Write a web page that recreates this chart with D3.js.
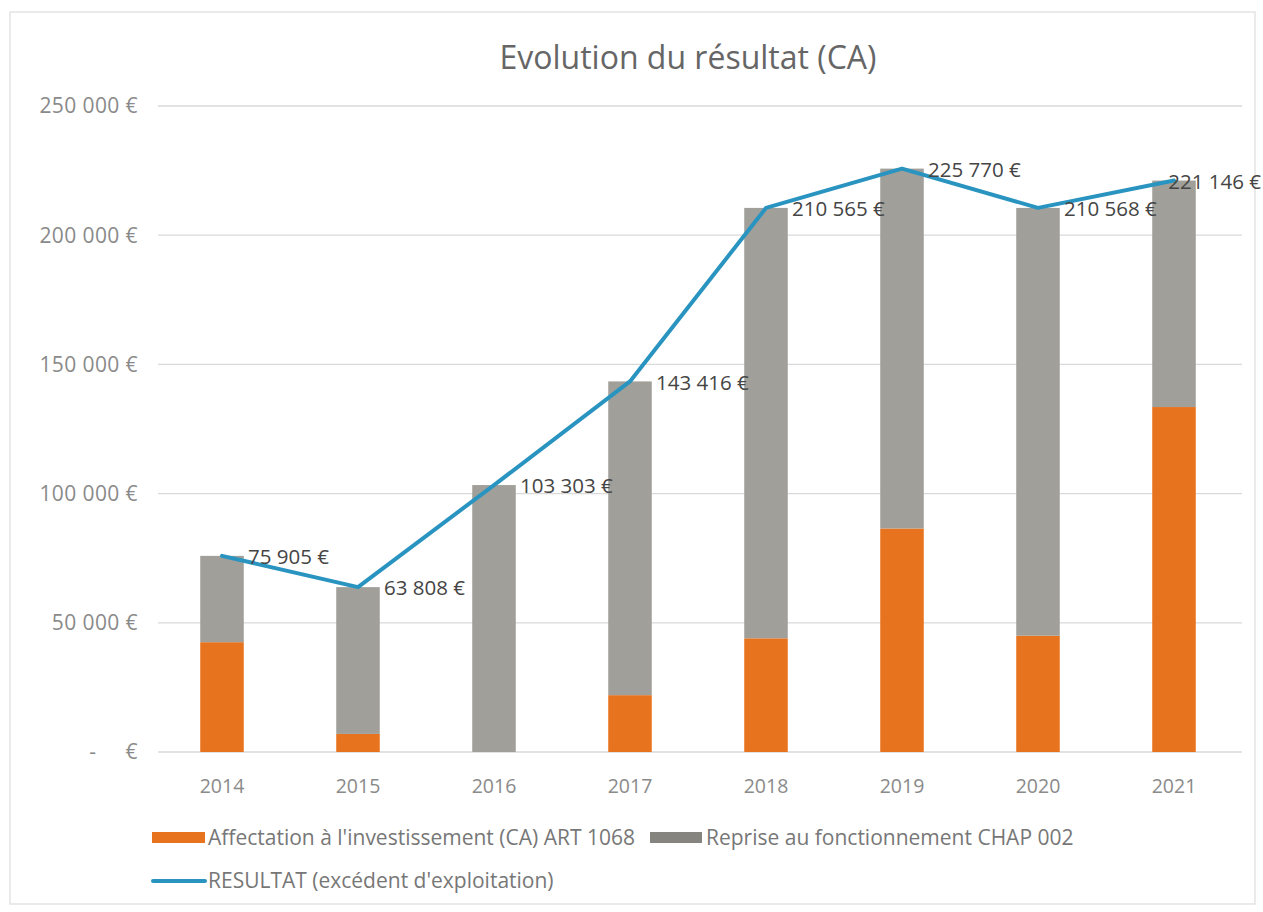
<!DOCTYPE html>
<html><head><meta charset="utf-8">
<script src="https://cdn.jsdelivr.net/npm/d3@7"></script>
<style>
html,body{margin:0;padding:0;background:#fff;}
svg{display:block;font-family:"Open Sans",Lato,sans-serif;}
</style></head>
<body>
<svg id="chart" width="1263" height="912"></svg>
<script>
const years = ["2014","2015","2016","2017","2018","2019","2020","2021"];
const affectation = [42500, 7000, 0, 22000, 44000, 86500, 45000, 133500];
const reprise = [33405, 56808, 103303, 121416, 166565, 139270, 165568, 87646];
const resultat = [75905, 63808, 103303, 143416, 210565, 225770, 210568, 221146];
const yTicks = [0, 50000, 100000, 150000, 200000, 250000];
const yTickLabels = ["-\u00a0\u00a0\u00a0\u00a0\u00a0€", "50 000 €", "100 000 €", "150 000 €", "200 000 €", "250 000 €"];
const seriesNames = ["Affectation à l'investissement (CA) ART 1068", "Reprise au fonctionnement CHAP 002", "RESULTAT (excédent d'exploitation)"];
const title = "Evolution du résultat (CA)";

const colors = {orange:"#E8731F", grey:"#A09F99", blue:"#2A94C0", text:"#666666", grid:"#D9D9D9"};
const W = 1263, H = 912;
const m = {left:154, right:1242, top:106, bottom:752};

const svg = d3.select("#chart");
svg.append("rect").attr("x",10).attr("y",12).attr("width",W-18).attr("height",H-20)
  .attr("fill","#fff").attr("stroke","#E3E3E3").attr("stroke-width",1.5);

const x = d3.scaleBand().domain(years).range([m.left, m.right]).paddingInner(0.68).paddingOuter(0.34);
const y = d3.scaleLinear().domain([0, 250000]).range([m.bottom, m.top]);

// grid
svg.append("g").selectAll("line").data(yTicks).join("line")
  .attr("x1", m.left+4).attr("x2", m.right)
  .attr("y1", d=>y(d)).attr("y2", d=>y(d))
  .attr("stroke", colors.grid).attr("stroke-width", 1.3);

// y labels
svg.append("g").selectAll("text").data(yTicks).join("text")
  .attr("x", 138).attr("y", d=>y(d)).attr("dy","0.35em")
  .attr("text-anchor","end").attr("font-size",21).attr("letter-spacing","0.4px").attr("fill","#8A8A8A")
  .text((d,i)=>yTickLabels[i]);

// x labels
svg.append("g").selectAll("text").data(years).join("text")
  .attr("x", d=>x(d)+x.bandwidth()/2).attr("y", 793)
  .attr("text-anchor","middle").attr("font-size",19.5).attr("fill","#8A8A8A")
  .text(d=>d);

// stacked bars
const rows = years.map((yr,i)=>({year:yr, affectation:affectation[i], reprise:reprise[i]}));
const stack = d3.stack().keys(["affectation","reprise"])(rows);
const fill = {affectation:colors.orange, reprise:colors.grey};
svg.append("g").selectAll("g").data(stack).join("g")
  .attr("fill", d=>fill[d.key])
  .selectAll("rect").data(d=>d).join("rect")
  .attr("x", d=>x(d.data.year)).attr("width", x.bandwidth())
  .attr("y", d=>y(d[1])).attr("height", d=>Math.max(0, y(d[0])-y(d[1])));

// line
const cx = d=>x(d)+x.bandwidth()/2;
const line = d3.line().x((d,i)=>cx(years[i])).y(d=>y(d));
svg.append("path").datum(resultat).attr("d", line)
  .attr("fill","none").attr("stroke",colors.blue).attr("stroke-width",4)
  .attr("stroke-linejoin","round").attr("stroke-linecap","round");

// data labels
const fmt = v => d3.format(",")(v).replace(/,/g," ") + " €";
const lbl = svg.append("g").selectAll("text").data(resultat).join("text")
  .attr("y", d=>y(d)).attr("dy","0.4em")
  .attr("font-size",20.5).attr("fill","#454545")
  .text(d=>fmt(d));
lbl.each(function(d,i){
  const w = this.getComputedTextLength();
  const px = cx(years[i]) + 26;
  d3.select(this).attr("x", Math.min(px, W-2-w));
});

// title
svg.append("text").attr("x", 688).attr("y", 69).attr("text-anchor","middle")
  .attr("font-size",32).attr("fill",colors.text).text(title);

// legend
const lg = svg.append("g").attr("font-size",21).attr("fill","#777777");
lg.append("rect").attr("x",152).attr("y",832).attr("width",53).attr("height",11).attr("fill",colors.orange);
lg.append("text").attr("x",208).attr("y",838).attr("dy","0.35em").text(seriesNames[0]);
lg.append("rect").attr("x",650).attr("y",832).attr("width",52).attr("height",11).attr("fill","#85847E");
lg.append("text").attr("x",706).attr("y",838).attr("dy","0.35em").text(seriesNames[1]);
lg.append("line").attr("x1",153).attr("x2",205).attr("y1",881).attr("y2",881)
  .attr("stroke",colors.blue).attr("stroke-width",4).attr("stroke-linecap","round");
lg.append("text").attr("x",208).attr("y",881).attr("dy","0.35em").text(seriesNames[2]);
</script>
</body></html>
